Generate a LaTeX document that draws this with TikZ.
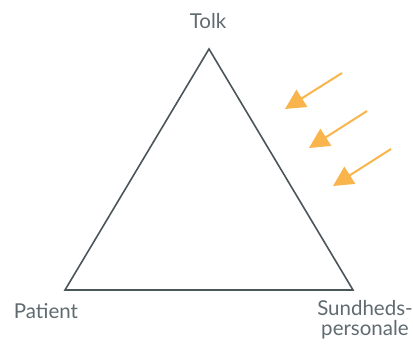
\documentclass[tikz,border=0pt]{standalone}
\usepackage{fontspec}
\setmainfont{Lato}
\usetikzlibrary{arrows.meta}
\definecolor{edgegray}{HTML}{4B565A}
\definecolor{textgray}{HTML}{5F6B6F}
\definecolor{arroworange}{HTML}{F9B44C}
\begin{document}
\begin{tikzpicture}[x=1pt, y=-1pt,
    vlabel/.style={textgray, font=\fontsize{20.5}{20}\selectfont, align=center, inner sep=0pt},
    side/.style={edgegray, line width=1.6pt},
    push/.style={arroworange, line width=2pt, -{Triangle[length=20pt, width=20pt]}}]
                \useasboundingbox (0,0) rectangle (413,347);
                % triangle corners
                \coordinate (tolk) at (209,49);
                \coordinate (patient) at (65,290);
                \coordinate (sund) at (353,290);
                \draw[side] (tolk) -- (patient) -- (sund) -- cycle;
                \node[vlabel] (tolktext) at (208,21) {Tolk};
                \node[vlabel] (patienttext) at (46,311) {Patient};
                \node[vlabel] (sundtext) at (365,320) {Sundheds-\\personale};
                % arrows from outside
                \coordinate (a1s) at (342,73);
                \coordinate (a1e) at (285,109);
                \coordinate (a2s) at (367,111);
                \coordinate (a2e) at (309,148);
                \coordinate (a3s) at (391,149);
                \coordinate (a3e) at (333,186);
                \draw[push] (a1s) -- (a1e);
                \draw[push] (a2s) -- (a2e);
                \draw[push] (a3s) -- (a3e);
                \end{tikzpicture}
\end{document}
